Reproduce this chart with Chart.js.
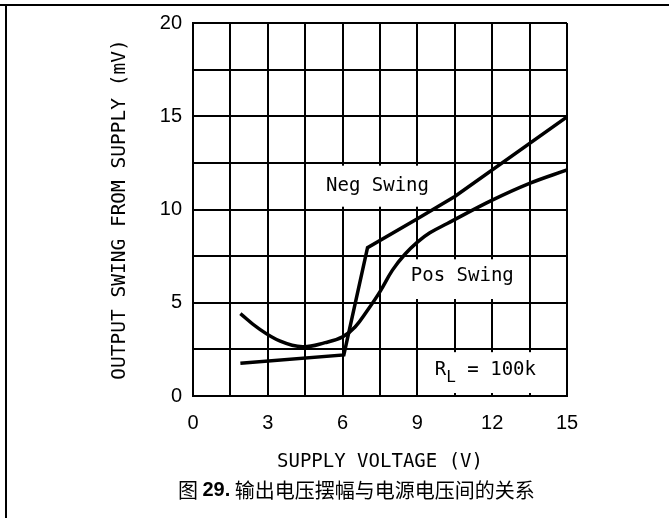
<!DOCTYPE html>
<html>
<head>
<meta charset="utf-8">
<script src="https://cdn.jsdelivr.net/npm/chart.js@4.4.1/dist/chart.umd.min.js"></script>
<style>
  html, body { margin: 0; padding: 0; background: #fff; }
  #wrap { width: 669px; height: 518px; }
</style>
</head>
<body>
<div id="wrap"><canvas id="swingChart" width="669" height="518"></canvas></div>
<script>
// ====== Données ======
const negX = [1.9, 6.05, 7.0, 9.0, 10.5, 15.0];
const negY = [1.75, 2.2, 7.95, 9.5, 10.7, 14.97];

const posX = [1.9, 2.6, 3.5, 4.4, 5.3, 6.0, 6.5, 7.0, 7.5, 8.0, 8.5, 9.0, 9.5, 10.2, 12.0, 13.5, 15.0];
const posY = [4.42, 3.65, 2.94, 2.64, 2.86, 3.17, 3.7, 4.6, 5.6, 6.75, 7.6, 8.25, 8.75, 9.25, 10.5, 11.4, 12.12];

const xTickLabels = [0, 3, 6, 9, 12, 15];
const yTickLabels = [0, 5, 10, 15, 20];

const xTitle = "SUPPLY VOLTAGE (V)";
const yTitle = "OUTPUT SWING FROM SUPPLY (mV)";
const captionParts = ["图 ", "29.", " 输出电压摆幅与电源电压间的关系"];

// étiquettes dans le graphe : boîte blanche (en valeurs) + texte
const noteTexts = ["Neg Swing", "Pos Swing"];
const noteAt    = [[7.4, 11.28], [10.8, 6.42]];
const noteBoxes = [[5.2, 9.9, 10.15, 12.35], [8.55, 13.44, 5.2, 7.33]];
const rlBox = [9.1, 14.88, 0.16, 2.35];
const rlAt  = [9.7, 1.38];

const MONO = "'DejaVu Sans Mono', monospace";

function toPts(xs, ys) {
  return xs.map((x, i) => ({ x, y: ys[i] }));
}

// ====== Plugin : cadre, boîtes, textes, légende ======
const decorPlugin = {
  id: "decor",
  beforeDatasetsDraw(chart) {
    const { ctx, scales: { x, y } } = chart;
    ctx.save();
    ctx.fillStyle = "#fff";
    noteBoxes.concat([rlBox]).forEach(b => {
      const x0 = x.getPixelForValue(b[0]), x1 = x.getPixelForValue(b[1]);
      const y0 = y.getPixelForValue(b[3]), y1 = y.getPixelForValue(b[2]);
      ctx.fillRect(x0, y0, x1 - x0, y1 - y0);
    });
    ctx.restore();
  },
  afterDatasetsDraw(chart) {
    const { ctx, scales: { x, y } } = chart;
    ctx.save();
    ctx.fillStyle = "#000";
    ctx.font = "19px " + MONO;
    ctx.textAlign = "center";
    ctx.textBaseline = "middle";
    noteTexts.forEach((t, i) => {
      ctx.fillText(t, x.getPixelForValue(noteAt[i][0]), y.getPixelForValue(noteAt[i][1]));
    });

    // R_L = 100k
    let px = x.getPixelForValue(rlAt[0]);
    const py = y.getPixelForValue(rlAt[1]);
    ctx.textAlign = "left";
    ctx.fillText("R", px, py);
    px += ctx.measureText("R").width;
    ctx.font = "16px " + MONO;
    ctx.fillText("L", px, py + 8);
    px += ctx.measureText("L").width;
    ctx.font = "19px " + MONO;
    ctx.fillText(" = 100k", px, py);
    ctx.restore();
  },
  afterDraw(chart) {
    const ctx = chart.ctx;
    ctx.save();
    // cadre de la page
    ctx.strokeStyle = "#000";
    ctx.lineWidth = 2;
    ctx.beginPath();
    ctx.moveTo(0, 5);
    ctx.lineTo(669, 5);
    ctx.moveTo(6, 5);
    ctx.lineTo(6, 518);
    ctx.stroke();

    // légende de la figure
    const fonts = ["20px 'Noto Sans CJK SC'", "bold 20px 'Liberation Sans', Arial", "20px 'Noto Sans CJK SC'"];
    let cx = 178;
    ctx.fillStyle = "#000";
    ctx.textBaseline = "middle";
    ctx.textAlign = "left";
    captionParts.forEach((s, i) => {
      ctx.font = fonts[i];
      ctx.fillText(s, cx, 490);
      cx += ctx.measureText(s).width;
    });
    ctx.restore();
  }
};

// ====== Graphique ======
const chart = new Chart(document.getElementById("swingChart").getContext("2d"), {
  type: "line",
  data: {
    datasets: [
      {
        label: "Neg Swing",
        data: toPts(negX, negY),
        borderColor: "#000",
        borderWidth: 3.5,
        pointRadius: 0,
        tension: 0,
        fill: false
      },
      {
        label: "Pos Swing",
        data: toPts(posX, posY),
        borderColor: "#000",
        borderWidth: 3.5,
        pointRadius: 0,
        tension: 0.4,
        fill: false
      }
    ]
  },
  options: {
    responsive: false,
    animation: false,
    devicePixelRatio: 1,
    layout: { padding: { left: 0, top: 22, right: 102, bottom: 0 } },
    plugins: { legend: { display: false }, tooltip: { enabled: false } },
    scales: {
      x: {
        type: "linear",
        min: 0,
        max: 15,
        afterFit: s => { s.height = 122; },
        ticks: {
          stepSize: 1.5,
          padding: 15,
          color: "#000",
          font: { family: "'Liberation Sans', Arial", size: 20 },
          autoSkip: false,
          maxRotation: 0,
          callback: v => (xTickLabels.includes(v) ? String(v) : "")
        },
        grid: { color: "#000", lineWidth: 2, drawTicks: false },
        border: { color: "#000", width: 2 },
        title: {
          display: true,
          text: xTitle,
          color: "#000",
          font: { family: MONO, size: 19 },
          padding: { top: 0, bottom: 44.6 }
        }
      },
      y: {
        type: "linear",
        min: 0,
        max: 20,
        afterFit: s => { s.width = 193; },
        ticks: {
          stepSize: 2.5,
          padding: 11,
          color: "#000",
          font: { family: "'Liberation Sans', Arial", size: 20 },
          autoSkip: false,
          callback: v => (yTickLabels.includes(v) ? String(v) : "")
        },
        grid: { color: "#000", lineWidth: 2, drawTicks: false },
        border: { color: "#000", width: 2 },
        title: {
          display: true,
          text: yTitle,
          color: "#000",
          font: { family: MONO, size: 19.5 },
          padding: { top: 108.3, bottom: 0 }
        }
      }
    }
  },
  plugins: [decorPlugin]
});
</script>
</body>
</html>
